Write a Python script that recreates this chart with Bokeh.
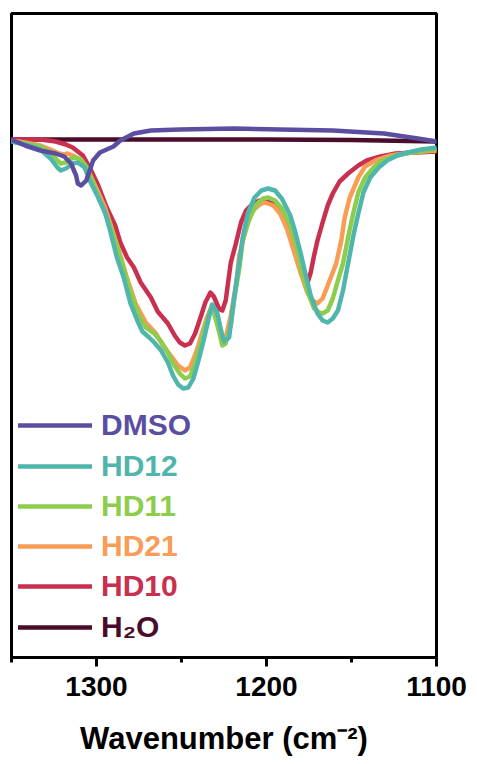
from bokeh.plotting import figure
from bokeh.models import Range1d, FixedTicker, Legend, LegendItem
from bokeh.embed import file_html
from bokeh.resources import INLINE

# FTIR spectra: (wavenumber cm^-1, relative transmittance a.u.)
dmso = [(1350, 103.6), (1342, 102.4), (1333, 101.4), (1324, 100.8), (1319, 100.2),
        (1315, 98.8), (1312, 96.4), (1311, 94.8), (1309, 94.4), (1306, 95.4),
        (1304, 97.4), (1302, 99.4), (1298, 101.0), (1294, 101.6), (1290, 102.2),
        (1286, 103.4), (1278, 104.8), (1268, 105.4), (1251, 105.6), (1219, 105.8),
        (1161, 105.4), (1131, 104.8), (1111, 103.8), (1100, 103.2)]

hd12 = [(1350, 103.2), (1342, 102.6), (1333, 101.6), (1327, 99.8), (1323, 98.0),
        (1321, 97.4), (1318, 97.8), (1314, 98.8), (1311, 99.0), (1307, 98.0),
        (1304, 95.4), (1299, 92.0), (1295, 89.0), (1292, 85.4), (1288, 80.0),
        (1284, 76.0), (1280, 70.8), (1276, 67.4), (1273, 65.2), (1269, 64.0),
        (1266, 63.0), (1262, 61.4), (1258, 59.0), (1255, 56.4), (1252, 54.6),
        (1249, 53.8), (1246, 54.0), (1243, 55.8), (1240, 59.4), (1237, 63.4),
        (1234, 67.8), (1232, 70.6), (1229, 69.0), (1227, 65.8), (1225, 63.2),
        (1222, 64.0), (1220, 69.4), (1218, 74.4), (1216, 79.0), (1214, 84.0),
        (1211, 88.8), (1207, 92.0), (1203, 93.4), (1199, 93.8), (1195, 93.4),
        (1191, 91.8), (1186, 88.4), (1183, 85.0), (1180, 81.0), (1177, 76.6),
        (1174, 72.4), (1170, 68.8), (1167, 67.4), (1164, 67.0), (1161, 67.8),
        (1158, 69.4), (1155, 73.4), (1152, 78.8), (1149, 84.2), (1146, 88.8),
        (1143, 93.0), (1139, 96.0), (1134, 98.0), (1129, 99.4), (1123, 100.4),
        (1117, 101.0), (1109, 101.6), (1100, 102.0)]

hd11 = [(1350, 103.2), (1342, 102.8), (1333, 102.2), (1327, 101.0), (1323, 99.4),
        (1321, 98.8), (1318, 99.0), (1315, 99.8), (1312, 100.0), (1309, 99.6),
        (1306, 98.2), (1302, 95.0), (1298, 91.4), (1293, 87.4), (1288, 82.4),
        (1284, 77.8), (1280, 73.0), (1275, 68.4), (1271, 66.0), (1266, 64.8),
        (1262, 63.2), (1258, 61.0), (1255, 58.8), (1251, 56.8), (1248, 55.8),
        (1245, 56.2), (1242, 58.8), (1239, 62.4), (1236, 66.4), (1233, 69.4),
        (1231, 69.0), (1228, 65.4), (1226, 62.4), (1224, 62.8), (1221, 66.4),
        (1219, 71.8), (1216, 77.8), (1214, 83.4), (1210, 87.8), (1206, 90.6),
        (1202, 91.8), (1199, 92.0), (1195, 91.4), (1191, 89.8), (1186, 86.4),
        (1182, 81.8), (1179, 77.0), (1175, 72.4), (1172, 69.8), (1169, 69.0),
        (1167, 68.8), (1164, 69.4), (1161, 71.8), (1158, 75.4), (1155, 78.8),
        (1152, 84.0), (1149, 88.8), (1146, 93.0), (1142, 96.0), (1137, 98.0),
        (1132, 99.4), (1124, 100.4), (1115, 101.0), (1100, 101.6)]

hd21 = [(1350, 103.4), (1342, 103.0), (1333, 102.4), (1327, 101.6), (1322, 100.8),
        (1319, 100.6), (1317, 100.8), (1314, 100.4), (1309, 99.4), (1305, 97.4),
        (1300, 93.8), (1295, 90.0), (1291, 85.8), (1286, 80.4), (1282, 75.8),
        (1277, 70.8), (1271, 67.0), (1265, 64.8), (1261, 62.4), (1256, 60.2),
        (1252, 58.4), (1248, 57.4), (1245, 58.0), (1241, 61.4), (1238, 64.8),
        (1235, 68.0), (1232, 70.4), (1230, 69.0), (1228, 65.4), (1226, 63.4),
        (1224, 64.0), (1221, 68.4), (1218, 74.4), (1216, 80.4), (1212, 86.0),
        (1208, 89.4), (1204, 90.6), (1201, 91.0), (1196, 90.4), (1192, 88.8),
        (1188, 85.8), (1184, 81.4), (1180, 77.0), (1176, 73.0), (1173, 71.4),
        (1170, 70.8), (1167, 71.8), (1164, 74.4), (1159, 78.8), (1156, 83.4),
        (1154, 88.0), (1151, 92.0), (1146, 96.0), (1142, 98.2), (1136, 99.4),
        (1127, 100.4), (1115, 101.0), (1100, 101.4)]

hd10 = [(1350, 103.6), (1342, 103.6), (1333, 103.6), (1324, 103.2), (1318, 102.6),
        (1314, 102.0), (1308, 100.4), (1304, 98.0), (1299, 94.4), (1294, 90.0),
        (1289, 86.4), (1286, 83.0), (1282, 80.0), (1278, 78.0), (1274, 75.0),
        (1268, 72.0), (1264, 69.2), (1258, 66.8), (1254, 64.4), (1251, 63.0),
        (1248, 62.4), (1245, 62.8), (1242, 64.8), (1239, 67.8), (1236, 71.0),
        (1233, 73.0), (1231, 72.2), (1228, 69.8), (1226, 69.4), (1224, 71.4),
        (1221, 79.0), (1218, 82.8), (1215, 87.0), (1212, 89.4), (1208, 90.8),
        (1204, 91.4), (1201, 91.4), (1196, 91.0), (1192, 89.4), (1188, 86.4),
        (1184, 82.4), (1181, 79.0), (1178, 76.2), (1176, 74.8), (1174, 77.0),
        (1172, 80.4), (1170, 83.4), (1167, 87.0), (1164, 90.4), (1161, 92.8),
        (1157, 95.2), (1152, 96.8), (1146, 98.4), (1141, 99.4), (1133, 100.2),
        (1124, 100.8), (1112, 101.0), (1100, 101.2)]

h2o = [(1350, 103.6), (1300, 103.6), (1250, 103.6), (1200, 103.6), (1150, 103.5),
       (1100, 103.2)]

series_names = ["DMSO", "HD12", "HD11", "HD21", "HD10", "H\u2082O"]
series_data = [dmso, hd12, hd11, hd21, hd10, h2o]
series_colors = ["#5a4ea1", "#50b5ab", "#8dcd4d", "#f89c56", "#c92f4f", "#4a0c2a"]

major_ticks = [1300, 1200, 1100]
minor_ticks = [1350, 1250, 1150]

FONT = "Liberation Sans"

p = figure(frame_width=425, frame_height=644,
           min_border_left=11, min_border_right=41, min_border_top=13, min_border_bottom=4,
           x_range=Range1d(1350, 1100), y_range=Range1d(0, 128.8),
           y_axis_location=None, output_backend="svg", toolbar_location=None)

p.grid.visible = False
p.outline_line_color = "black"
p.outline_line_width = 3
p.background_fill_color = "white"
p.border_fill_color = "white"

ax = p.xaxis[0]
ax.ticker = FixedTicker(ticks=major_ticks, minor_ticks=minor_ticks)
ax.axis_line_width = 3
ax.major_tick_line_width = 3
ax.minor_tick_line_width = 3
ax.major_tick_in = 0
ax.major_tick_out = 9
ax.minor_tick_in = 0
ax.minor_tick_out = 5
ax.major_label_text_font = FONT
ax.major_label_text_font_style = "bold"
ax.major_label_text_font_size = "28px"
ax.major_label_text_color = "black"
ax.major_label_standoff = 10
ax.axis_label = "Wavenumber (cm\u207b\u00b2)"
ax.axis_label_text_font = FONT
ax.axis_label_text_font_style = "bold"
ax.axis_label_text_font_size = "31px"
ax.axis_label_text_color = "black"
ax.axis_label_standoff = 22

# draw back to front so the teal trace sits above the others
draw_order = [5, 4, 3, 2, 1, 0]
renderers = {}
for i in draw_order:
    xs = [pt[0] for pt in series_data[i]]
    ys = [pt[1] for pt in series_data[i]]
    renderers[i] = p.line(xs, ys, line_color=series_colors[i], line_width=4.5,
                          line_join="round", line_cap="round")

# one legend per entry so each label carries its trace colour
row_h = 34
centers_from_bottom = [232, 191, 151, 111, 71, 30]
for i, name in enumerate(series_names):
    lg = Legend(items=[LegendItem(label=name, renderers=[renderers[i]])],
                location=(7, centers_from_bottom[i] - row_h / 2),
                glyph_width=74, glyph_height=row_h, label_height=row_h,
                label_standoff=9, padding=0, margin=0, spacing=0,
                border_line_alpha=0, background_fill_alpha=0,
                label_text_font=FONT, label_text_font_style="bold",
                label_text_font_size="30px", label_text_color=series_colors[i])
    p.add_layout(lg)

open("out.html", "w").write(file_html(p, INLINE))
